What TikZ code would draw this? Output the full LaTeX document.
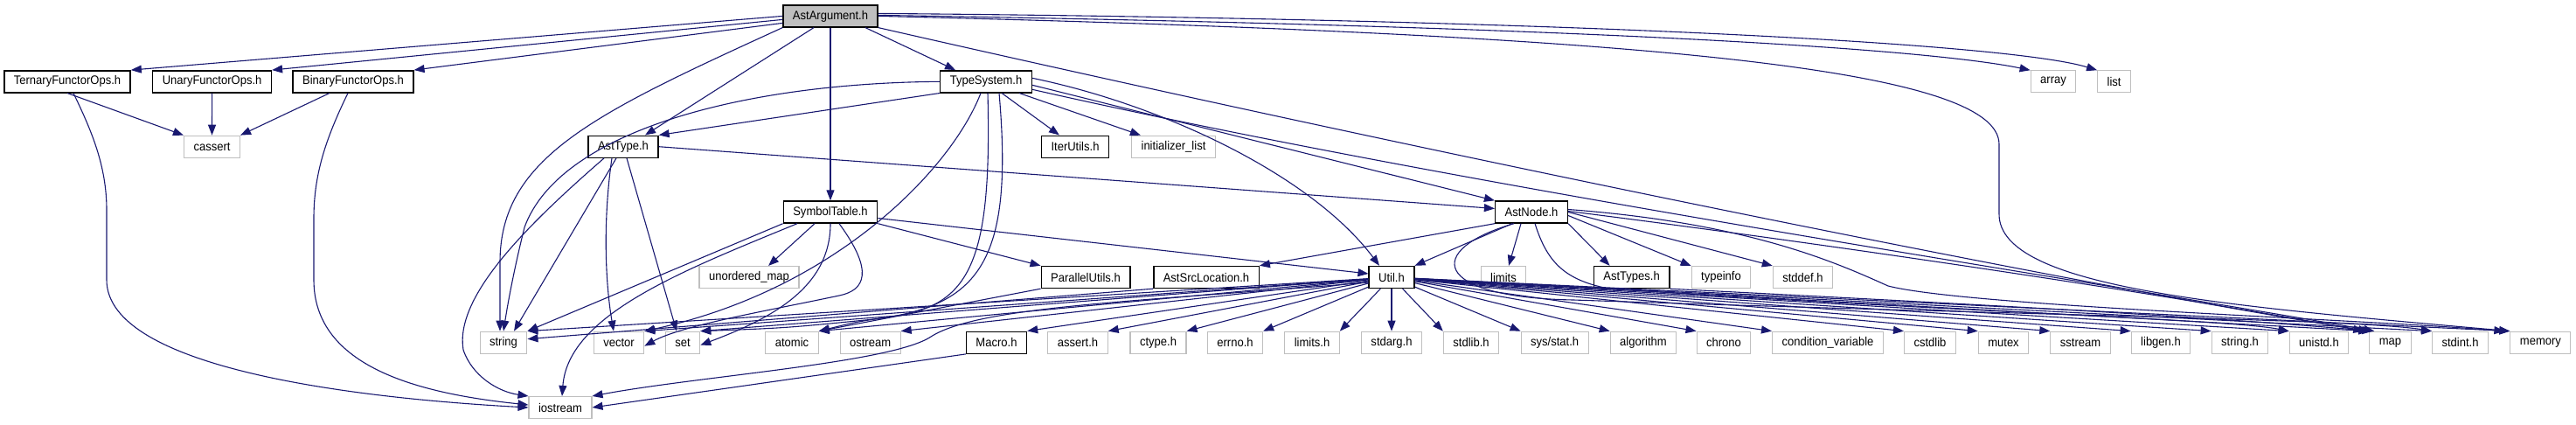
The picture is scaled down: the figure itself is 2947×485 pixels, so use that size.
\documentclass[tikz,border=0pt]{standalone}
\usepackage{fontspec}
\setmainfont{Liberation Sans}[FakeStretch=0.93]
\usetikzlibrary{arrows.meta}
\definecolor{edgeblue}{HTML}{191970}
\definecolor{boxgrey}{HTML}{BFBFBF}
\tikzset{
  hdr/.style={draw=black, line width=1.4pt, fill=white, inner xsep=11pt, inner ysep=0pt,
    minimum height=25pt, font=\fontsize{14}{16}\selectfont},
  syshdr/.style={hdr, draw=boxgrey, line width=1.1pt},
  roothdr/.style={hdr, fill=boxgrey},
  dep/.style={draw=edgeblue, line width=1.1pt, -{Triangle[length=12pt,width=9pt]}},
}
\begin{document}
\begin{tikzpicture}[x=1pt, y=-1pt]
	\useasboundingbox (0,0) rectangle (2947,485);
	% project headers
	\node[roothdr] (root) at (950,18.4) {AstArgument.h};
	\node[hdr] (ternary) at (77,93.3) {TernaryFunctorOps.h};
	\node[hdr] (unary) at (242.6,93.3) {UnaryFunctorOps.h};
	\node[hdr] (binary) at (404,93.3) {BinaryFunctorOps.h};
	\node[hdr] (typesys) at (1128,93.3) {TypeSystem.h};
	\node[hdr] (asttype) at (713,167.7) {AstType.h};
	\node[hdr] (iterutils) at (1230,167.7) {IterUtils.h};
	\node[hdr] (symtab) at (950,242.5) {SymbolTable.h};
	\node[hdr] (astnode) at (1752,242.5) {AstNode.h};
	\node[hdr] (parallel) at (1242,317) {ParallelUtils.h};
	\node[hdr] (asrc) at (1380,317) {AstSrcLocation.h};
	\node[hdr] (util) at (1592,317) {Util.h};
	\node[hdr] (asttypes) at (1866.6,317) {AstTypes.h};
	\node[hdr] (macro) at (1140,391.7) {Macro.h};
	% system headers
	\node[syshdr] (arrayh) at (2349,93.3) {array};
	\node[syshdr] (listh) at (2418.6,93.3) {list};
	\node[syshdr] (cassert) at (242.5,167.7) {cassert};
	\node[syshdr] (initlist) at (1342.5,167.7) {initializer\_list};
	\node[syshdr] (umap) at (857,317) {unordered\_map};
	\node[syshdr] (limits) at (1720,317) {limits};
	\node[syshdr] (typeinfo) at (1969,317) {typeinfo};
	\node[syshdr] (stddef) at (2062.5,317) {stddef.h};
	\node[syshdr] (iostream) at (641,466) {iostream};
	\foreach \nm/\px/\txt in {stringn/576/string, vectorn/708/vector, setn/781/set,
		atomic/906/atomic, ostream/995.6/ostream, asserth/1233/assert.h, ctypeh/1325/ctype.h,
		errnoh/1413/errno.h, limitsh/1501/limits.h, stdargh/1592/stdarg.h, stdlibh/1683/stdlib.h,
		sysstat/1778.6/{sys/stat.h}, algorithm/1880/algorithm, chrono/1972/chrono,
		condvar/2091/condition\_variable, cstdlib/2208/cstdlib, mutex/2292/mutex,
		sstream/2380/sstream, libgen/2472/libgen.h, stringh/2562.5/string.h, unistd/2653/unistd.h,
		mapn/2734.5/map, stdint/2814.5/stdint.h, memory/2906.4/memory}
		\node[syshdr] (\nm) at (\px,391.7) {\txt};

	% AstArgument.h
	\draw[dep] (root.west) -- (ternary.north east);
	\draw[dep] ([yshift=-4pt]root.west) -- (unary.north east);
	\draw[dep] ([yshift=-8pt]root.west) -- (binary.north east);
	\draw[dep] ([xshift=-19pt]root.south) -- ([xshift=25pt]asttype.north);
	\draw[dep] (root) -- (symtab);
	\draw[dep] ([xshift=40pt]root.south) -- ([xshift=-35pt]typesys.north);
	\draw[dep] (root.south west) .. controls (680,130) and (572,180) .. (572,300) -- ([xshift=-4pt]stringn.north);
	\draw[dep] ([yshift=3pt]root.east) .. controls (1800,22) and (2300,50) .. (listh.north west);
	\draw[dep] ([yshift=1pt]root.east) .. controls (1800,30) and (2200,55) .. (arrayh.north west);
	\draw[dep] (root.east) .. controls (1900,40) and (2287,80) .. (2287,165) -- (2287,245)
		.. controls (2287,330) and (2550,350) .. (memory.north west);
	\draw[dep] (root.south east) .. controls (1700,190) and (2400,330) .. (mapn.north west);
	% TypeSystem.h
	\draw[dep] (typesys.south west) -- (asttype.north east);
	\draw[dep] (typesys.west) .. controls (850,95) and (640,150) .. (600,260)
		.. controls (590,300) and (582,340) .. (stringn.north);
	\draw[dep] (typesys) -- (iterutils);
	\draw[dep] (typesys) -- (initlist);
	\draw[dep] ([yshift=4pt]typesys.east) .. controls (1330,120) and (1500,200) .. ([xshift=-14pt]util.north);
	\draw[dep] ([yshift=-4pt]typesys.east) -- (astnode.north west);
	\draw[dep] ([yshift=-9pt]typesys.east) .. controls (1700,220) and (2450,330) .. ([xshift=6pt]mapn.north west);
	\draw[dep] ([xshift=-6pt]typesys.south) .. controls (1090,190) and (960,330) .. (vectorn.north east);
	\draw[dep] ([xshift=2pt]typesys.south) .. controls (1135,300) and (1110,350) .. (1020,362)
		.. controls (980,368) .. (atomic.north east);
	\draw[dep] ([xshift=15pt]typesys.south) .. controls (1160,300) and (1120,350) .. (1000,365)
		.. controls (900,375) .. (setn.north east);
	% AstType.h
	\draw[dep] (asttype.east) -- ([yshift=4pt]astnode.west);
	\draw[dep] ([xshift=-8pt]asttype.south) -- ([xshift=12pt]stringn.north);
	\draw[dep] ([xshift=-13pt]asttype.south) .. controls (690,250) and (692,320) .. ([xshift=-6pt]vectorn.north);
	\draw[dep] ([xshift=4pt]asttype.south) -- ([xshift=-7pt]setn.north);
	\draw[dep] ([xshift=-22pt]asttype.south) .. controls (600,260) and (520,340) .. (530,400)
		.. controls (540,430) and (570,448) .. (iostream.north west);
	% SymbolTable.h
	\draw[dep] (symtab.south west) -- (stringn.north east);
	\draw[dep] ([xshift=-38pt]symtab.south) .. controls (780,310) and (650,360) .. ([xshift=2pt]iostream.north);
	\draw[dep] ([xshift=-18pt]symtab.south) -- ([xshift=22pt]umap.north);
	\draw[dep] (symtab.south) .. controls (950,330) and (880,365) .. ([yshift=-3pt]setn.east);
	\draw[dep] ([xshift=10pt]symtab.south) .. controls (1000,310) and (990,332) .. (960,338)
		.. controls (880,355) and (780,372) .. ([yshift=-4pt]vectorn.east);
	\draw[dep] (symtab.south east) -- (parallel.north west);
	\draw[dep] ([yshift=-7pt]symtab.east) -- ([yshift=4pt]util.west);
	% AstNode.h
	\draw[dep] (astnode.south west) -- (asrc.north east);
	\draw[dep] ([xshift=-22pt]astnode.south) -- (util.north east);
	\draw[dep] ([xshift=-12pt]astnode.south) -- ([xshift=6pt]limits.north);
	\draw[dep] (astnode.south east) -- ([xshift=-25pt]asttypes.north);
	\draw[dep] ([yshift=-4pt]astnode.east) -- (typeinfo.north west);
	\draw[dep] (astnode.east) -- (stddef.north west);
	\draw[dep] ([yshift=3pt]astnode.east) .. controls (2000,255) and (2100,300) .. (2160,327)
		.. controls (2250,350) and (2700,365) .. ([xshift=-6pt]memory.north west);
	\draw[dep] ([yshift=1pt]astnode.east) .. controls (2100,280) and (2500,340) .. ([xshift=-6pt]mapn.north west);
	\draw[dep] ([xshift=-20pt]astnode.south) .. controls (1630,285) and (1635,340) .. (1800,343)
		.. controls (2300,360) and (2700,365) .. (stdint.north west);
	\draw[dep] ([xshift=4pt]astnode.south) .. controls (1770,300) and (1790,320) .. (1840,330)
		.. controls (2200,355) and (2550,365) .. (unistd.north west);
	% other project headers
	\draw[dep] (ternary.south) -- (cassert.north west);
	\draw[dep] (unary) -- (cassert);
	\draw[dep] ([xshift=-27pt]binary.south) -- (cassert.north east);
	\draw[dep] ([xshift=7pt]ternary.south) .. controls (105,150) and (122,190) .. (122,240) -- (122,320)
		.. controls (122,420) and (400,455) .. (iostream.west);
	\draw[dep] ([xshift=-6pt]binary.south) .. controls (372,160) and (359,200) .. (359,250) -- (359,320)
		.. controls (359,420) and (480,450) .. ([yshift=3pt]iostream.west);
	\draw[dep] (parallel.south west) -- (atomic.north east);
	\draw[dep] (asrc.south west) -- ([yshift=4pt]stringn.east);
	\draw[dep] (asttypes.south east) .. controls (2200,345) and (2500,360) .. ([xshift=4pt]mapn.north west);
	\draw[dep] (macro.south west) -- (iostream.east);
	% Util.h
	\foreach \nm in {stringn, vectorn, setn, atomic, ostream, macro, asserth, ctypeh, errnoh, limitsh}
		\draw[dep] (util) -- (\nm.north east);
	\draw[dep] (util) -- (stdargh);
	\foreach \nm in {stdlibh, sysstat, algorithm, chrono, condvar, cstdlib, mutex, sstream,
		libgen, stringh, unistd, mapn, stdint, memory}
		\draw[dep] (util) -- (\nm.north west);
	\draw[dep] ([yshift=-6pt]util.west) .. controls (1300,345) and (1120,350) .. (1065,385)
		.. controls (1020,415) and (800,430) .. (iostream.north east);
\end{tikzpicture}
\end{document}
